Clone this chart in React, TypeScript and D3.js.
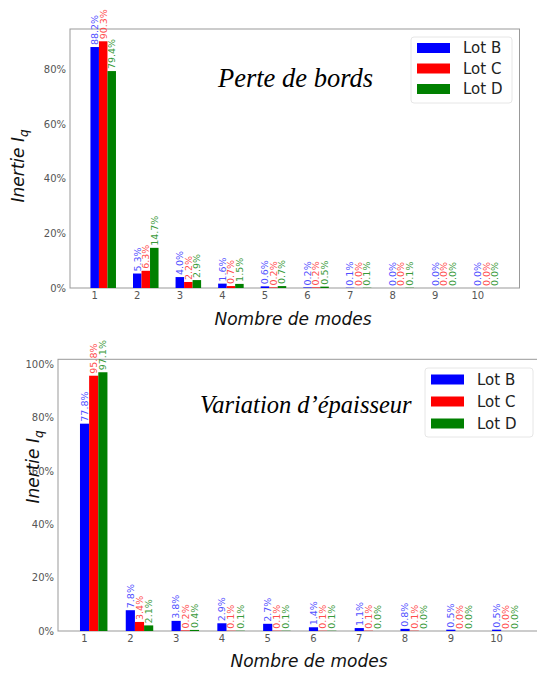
import React from "react";
import * as d3 from "d3";

const modes = [1, 2, 3, 4, 5, 6, 7, 8, 9, 10];
const lots = ["Lot B", "Lot C", "Lot D"];
const lotColors = ["#0000ff", "#ff0000", "#008000"];
const labelColors = ["#5050ff", "#ff4d4d", "#3a9a3a"];

const perteB = [88.2, 5.3, 4.0, 1.6, 0.6, 0.2, 0.1, 0.0, 0.0, 0.0];
const perteC = [90.3, 6.3, 2.2, 0.7, 0.2, 0.2, 0.0, 0.0, 0.0, 0.0];
const perteD = [79.4, 14.7, 2.9, 1.5, 0.7, 0.5, 0.1, 0.1, 0.0, 0.0];

const epB = [77.8, 7.8, 3.8, 2.9, 2.7, 1.4, 1.1, 0.8, 0.5, 0.5];
const epC = [95.8, 3.4, 0.2, 0.1, 0.1, 0.1, 0.1, 0.1, 0.0, 0.0];
const epD = [97.1, 2.1, 0.4, 0.1, 0.1, 0.1, 0.0, 0.0, 0.0, 0.0];

const ticksTop = [0, 20, 40, 60, 80];
const ticksBottom = [0, 20, 40, 60, 80, 100];

const SANS = "DejaVu Sans, sans-serif";
const SERIF = "Liberation Serif, Times New Roman, serif";

type PanelProps = {
  series: number[][];
  left: number;
  right: number;
  top: number;
  bottom: number;
  yMax: number;
  yTicks: number[];
  title: string;
  titleX: number;
  titleY: number;
  titleSize: number;
  legend: { x: number; y: number; w: number; h: number; row0: number; rowStep: number };
  ylabel: { x: number; y: number };
  xlabel: { x: number; y: number };
};

function Panel(p: PanelProps) {
  const barW = 0.2;
  const x = d3.scaleLinear().domain([0.42, 10.98]).range([p.left, p.right]);
  const y = d3.scaleLinear().domain([0, p.yMax]).range([p.bottom, p.top]);
  const bw = x(1 + barW) - x(1);
  return (
    <g>
      <rect x={p.left} y={p.top} width={p.right - p.left} height={p.bottom - p.top} fill="none" stroke="#999" strokeWidth={1} />
      {p.series.map((vals, si) =>
        vals.map((v, i) => {
          const cx = x(modes[i] + si * barW);
          return (
            <rect key={`b${si}-${i}`} x={cx - bw / 2} y={y(v)} width={bw} height={Math.max(0, p.bottom - y(v))} fill={lotColors[si]} />
          );
        })
      )}
      {p.series.map((vals, si) =>
        vals.map((v, i) => {
          const cx = x(modes[i] + si * barW);
          const ty = y(v) - 2;
          return (
            <text
              key={`l${si}-${i}`}
              transform={`translate(${cx},${ty}) rotate(-90)`}
              dy="0.35em"
              fontFamily={SANS}
              fontSize={9.5}
              fill={labelColors[si]}
              textAnchor="start"
            >
              {v.toFixed(1) + "%"}
            </text>
          );
        })
      )}
      {p.yTicks.map((t) => (
        <text key={`yt${t}`} x={p.left - 4} y={y(t)} dy="0.35em" textAnchor="end" fontFamily={SANS} fontSize={10} fill="#555">
          {t + "%"}
        </text>
      ))}
      {modes.map((m) => (
        <text key={`xt${m}`} x={x(m)} y={p.bottom + 11} textAnchor="middle" fontFamily={SANS} fontSize={10} fill="#555">
          {m}
        </text>
      ))}
      <text x={p.xlabel.x} y={p.xlabel.y} textAnchor="middle" fontFamily={SANS} fontStyle="italic" fontSize={17} fill="#111">
        Nombre de modes
      </text>
      <text transform={`translate(${p.ylabel.x},${p.ylabel.y}) rotate(-90)`} textAnchor="middle" dy="0.35em" fontFamily={SANS} fontStyle="italic" fontSize={17} fill="#111">
        Inertie I<tspan fontSize={12} dy="4">q</tspan>
      </text>
      <text x={p.titleX} y={p.titleY} fontFamily={SERIF} fontStyle="italic" fontSize={p.titleSize} fill="#000">
        {p.title}
      </text>
      <rect x={p.legend.x} y={p.legend.y} width={p.legend.w} height={p.legend.h} rx={3} fill="#fff" stroke="#e6e6e6" />
      {lots.map((l, i) => {
        const ry = p.legend.row0 + i * p.legend.rowStep;
        return (
          <g key={l}>
            <rect x={p.legend.x + 6} y={ry - 5} width={33} height={10} fill={lotColors[i]} />
            <text x={p.legend.x + 52} y={ry} dy="0.35em" fontFamily={SANS} fontSize={15} fill="#222">
              {l}
            </text>
          </g>
        );
      })}
    </g>
  );
}

export default function App() {
  return (
    <svg width={537} height={673} style={{ position: "absolute", left: 0, top: 0, background: "#fff" }}>
      <rect width={537} height={673} fill="#fff" />
      <Panel
        series={[perteB, perteC, perteD]}
        left={70}
        right={519.5}
        top={29}
        bottom={288}
        yMax={94.8}
        yTicks={ticksTop}
        title="Perte de bords"
        titleX={218}
        titleY={87}
        titleSize={26.5}
        legend={{ x: 411, y: 37, w: 101, h: 66, row0: 48, rowStep: 20.5 }}
        ylabel={{ x: 18, y: 166 }}
        xlabel={{ x: 293, y: 325 }}
      />
      <Panel
        series={[epB, epC, epD]}
        left={58}
        right={541.5}
        top={359.3}
        bottom={631}
        yMax={101.96}
        yTicks={ticksBottom}
        title="Variation d’épaisseur"
        titleX={200}
        titleY={413}
        titleSize={24.5}
        legend={{ x: 425, y: 368, w: 108, h: 69, row0: 379.5, rowStep: 22 }}
        ylabel={{ x: 33, y: 467 }}
        xlabel={{ x: 309, y: 667 }}
      />
    </svg>
  );
}
